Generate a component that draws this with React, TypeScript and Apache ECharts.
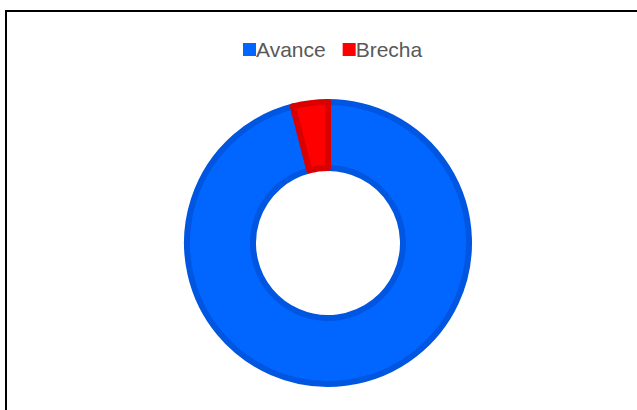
import React, { useEffect, useRef } from "react";
import * as echarts from "echarts";

const categories = ["Avance", "Brecha"];
const values = [96, 4];
const colors = ["#0066FF", "#FF0000"];
const borderColors = ["#0056E0", "#DA0000"];

export default function App() {
  const ref = useRef<HTMLDivElement>(null);
  useEffect(() => {
    if (!ref.current) return;
    const chart = echarts.init(ref.current, undefined, { renderer: "svg" });
    chart.setOption({
      animation: false,
      legend: {
        data: categories,
        left: 243,
        top: 39,
        padding: 0,
        itemWidth: 13,
        itemHeight: 13,
        itemGap: 17,
        icon: "rect",
        itemStyle: { borderWidth: 0 },
        textStyle: {
          fontFamily: "Liberation Sans, Arial, sans-serif",
          fontSize: 21,
          color: "#595959",
          padding: [0, 0, 0, -5],
        },
      },
      series: [
        {
          type: "pie",
          center: [328, 243],
          radius: [75, 141],
          startAngle: 90,
          clockwise: true,
          label: { show: false },
          labelLine: { show: false },
          emphasis: { disabled: true },
          data: categories.map((name, i) => ({
            name,
            value: values[i],
            itemStyle: {
              color: colors[i],
              borderColor: borderColors[i],
              borderWidth: 6,
            },
          })),
        },
      ],
    });
    return () => chart.dispose();
  }, []);
  return (
    <div style={{ position: "fixed", left: 0, top: 0, width: 637, height: 410, background: "#fff", overflow: "hidden" }}>
      <div
        style={{
          position: "absolute",
          left: 5,
          top: 10,
          width: 640,
          height: 410,
          borderLeft: "2px solid #000",
          borderTop: "2px solid #000",
        }}
      />
      <div ref={ref} style={{ position: "absolute", left: 0, top: 0, width: 637, height: 410 }} />
    </div>
  );
}
